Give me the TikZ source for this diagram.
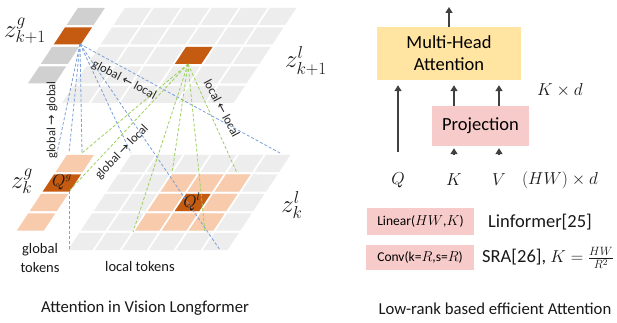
\documentclass[tikz,border=0pt]{standalone}
\usepackage{fontspec}
\setmainfont{Carlito}
\newfontfamily\arrowfont{DejaVu Sans}
\usetikzlibrary{arrows.meta}

\definecolor{lgray}{HTML}{EDEDED}
\definecolor{dgray}{HTML}{D0D0D0}
\definecolor{dorange}{HTML}{C55A11}
\definecolor{lorange}{HTML}{F8CBAD}
\definecolor{bline}{HTML}{7A9FDA}
\definecolor{gline}{HTML}{9BD05A}
\definecolor{mha}{HTML}{FFE4A2}
\definecolor{proj}{HTML}{F8CBCB}
\definecolor{arr}{HTML}{404040}

\newcommand{\fsz}[1]{\fontsize{#1}{#1}\selectfont}
\newcommand{\pcell}[4]{\fill[#4] (#1,#2) -- ++(#3,0) -- ++(0,0.872) -- ++(-#3,0) -- cycle;}

\tikzset{
  lcell/.style={fill=lgray},
  gcell/.style={fill=dgray},
  qcell/.style={fill=dorange},
  ncell/.style={fill=lorange},
  bdash/.style={draw=bline, line width=0.8pt, dash pattern=on 3pt off 2pt},
  gdash/.style={draw=gline, line width=0.8pt, dash pattern=on 3pt off 2pt},
  lbl/.style={inner sep=0pt, text=black!90},
  linetxt/.style={inner sep=0pt, text=black!85, font=\fsz{12.5}},
  box/.style={inner sep=0pt, align=center},
  arrowline/.style={draw=arr, line width=2pt, -{Triangle[length=6pt,width=7pt]}},
}

\begin{document}
\begin{tikzpicture}[x=1pt,y=-1pt]
\useasboundingbox[fill=white] (0,0) rectangle (617,323);

% top plane (layer k+1)
\begin{scope}[shift={(62pt,-103pt)}, x={(29pt,0pt)}, y={(12.9pt,19.5pt)}]
  \foreach \i in {0,...,5}{\foreach \j in {0,...,4}{\pcell{\i}{\j}{0.914}{lcell}}}
  \pcell{3}{2}{0.914}{qcell}
  \foreach \j in {1,2,4}{\pcell{-1.62}{\j}{0.93}{gcell}}
  \pcell{-1.62}{3}{0.93}{qcell}
\end{scope}

% bottom plane (layer k)
\begin{scope}[shift={(68pt,-250pt)}, x={(27pt,0pt)}, y={(12.9pt,19.5pt)}]
  \foreach \i in {0,...,5}{\foreach \j in {0,...,4}{\pcell{\i}{\j}{0.907}{lcell}}}
  \foreach \i in {2,3,4}{\foreach \j in {1,2,3}{\pcell{\i}{\j}{0.907}{ncell}}}
  \pcell{3}{2}{0.907}{qcell}
  \foreach \j in {1,2,4}{\pcell{-2.37}{\j}{1.0}{ncell}}
  \pcell{-2.37}{3}{1.0}{qcell}
\end{scope}

% connector end points
\coordinate (O) at (80,44);
\coordinate (G) at (188,64);
\coordinate (b1) at (57,153);
\coordinate (b2) at (69,153);
\coordinate (b3) at (82,153);
\coordinate (b4) at (131,153);
\coordinate (b5) at (280,153);
\coordinate (b6) at (220,250);
\coordinate (s1) at (69,191);
\coordinate (s2) at (69,250);
\coordinate (g1) at (82,153);
\coordinate (g2) at (70,190);
\coordinate (g3) at (133,232);
\coordinate (g4) at (172,173);
\coordinate (g5) at (205,232);
\coordinate (g6) at (237,173);

\foreach \e in {b1,b2,b3,b4,b5,b6}{\draw[bdash] (O) -- (\e);}
\draw[bdash] (s1) -- (s2);
\foreach \e in {g1,g2,g3,g4,g5,g6}{\draw[gdash] (G) -- (\e);}

% labels on the left
\node[lbl, font=\fsz{26}] (zg1) at (25,31) {$z^{g}_{k+1}$};
\node[lbl, font=\fsz{26}] (zl1) at (306,61) {$z^{l}_{k+1}$};
\node[lbl, font=\fsz{26}] (zg0) at (22,181) {$z^{g}_{k}$};
\node[lbl, font=\fsz{26}] (zl0) at (292,205) {$z^{l}_{k}$};
\node[lbl, font=\fsz{16}] (qg) at (62,182) {$Q^g$};
\node[lbl, font=\fsz{16}] (ql) at (192,202) {$Q^l$};

\node[linetxt, rotate=90] (gg) at (52,120) {global {\arrowfont →} global};
\node[linetxt, rotate=-28] (gl) at (124,80) {global {\arrowfont ←} local};
\node[linetxt, rotate=46] (glo) at (122,152) {global {\arrowfont →} local};
\node[linetxt, rotate=-62] (ll) at (222,108) {local {\arrowfont ←} local};

\node[lbl, align=center, font=\fontsize{14.5}{19}\selectfont] (gt) at (40,258) {global\\tokens};
\node[lbl, font=\fsz{14.5}] (lt) at (140,267) {local tokens};
\node[lbl, font=\fsz{16.7}] (cap1) at (145,308) {Attention in Vision Longformer};

% right part
\node[box, fill=mha, minimum width=144pt, minimum height=53pt, font=\fontsize{18.5}{22}\selectfont] (mha) at (449,53.5) {Multi-Head\\Attention};
\node[box, fill=proj, minimum width=97pt, minimum height=40pt, font=\fsz{18.5}] (proj) at (480.5,126) {Projection};
\node[lbl, font=\fsz{17}] (q) at (398,180) {$Q$};
\node[lbl, font=\fsz{17}] (k) at (454,180) {$K$};
\node[lbl, font=\fsz{17}] (v) at (499,180) {$V$};
\node[lbl, font=\fsz{17}] (hwd) at (560,180) {$(HW)\times d$};
\node[lbl, font=\fsz{17}] (kd) at (560,90) {$K\times d$};
\coordinate (out) at (449,7);

\draw[arrowline, shorten <=20pt, shorten >=5pt] (q) -- (q |- mha.south);
\draw[arrowline, shorten >=5pt] (k |- proj.north) -- (k |- mha.south);
\draw[arrowline, shorten >=5pt] (v |- proj.north) -- (v |- mha.south);
\draw[arrowline, shorten <=20pt, shorten >=2pt] (k) -- (k |- proj.south);
\draw[arrowline, shorten <=20pt, shorten >=2pt] (v) -- (v |- proj.south);
\draw[arrowline] (mha.north) -- (out);

\node[box, fill=proj, minimum width=107pt, minimum height=27pt, font=\fsz{13.5}] (lin) at (420.5,221.5) {Linear($HW$,$K$)};
\node[box, fill=proj, minimum width=108pt, minimum height=25pt, font=\fsz{13.5}] (conv) at (420,257.5) {Conv(k=$R$,s=$R$)};
\node[lbl, font=\fsz{18.5}, anchor=west] (linf) at (488,222) {Linformer[25]};
\node[lbl, font=\fsz{18.5}, anchor=west] (sra) at (482,258) {SRA[26], $K=\frac{HW}{R^2}$};
\node[lbl, font=\fsz{16.7}] (cap2) at (495,309) {Low-rank based efficient Attention};
\end{tikzpicture}
\end{document}
